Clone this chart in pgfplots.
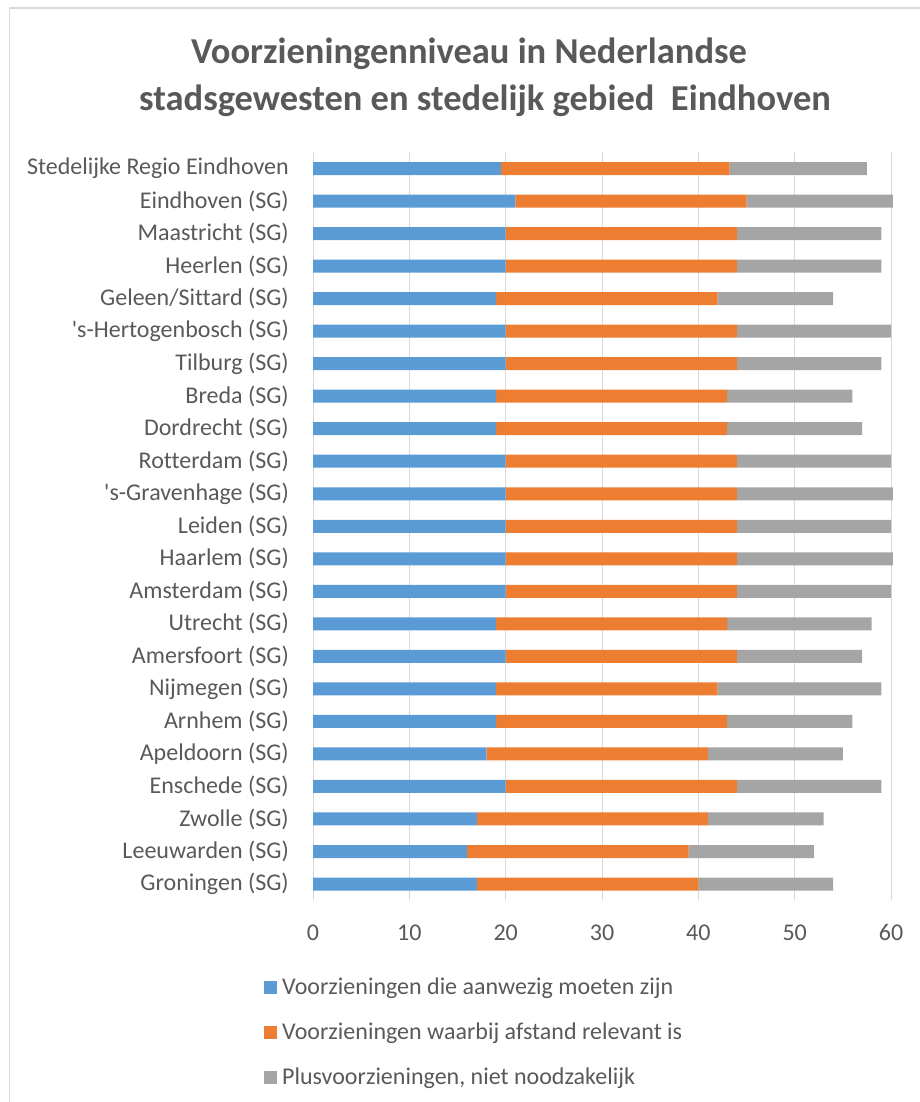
\documentclass[border=0pt]{standalone}
\usepackage{pgfplots}
\pgfplotsset{compat=1.18}
\usepackage{fontspec}
\setmainfont{Carlito}[Ligatures={TeXOff,CommonOff}]
\definecolor{cblue}{HTML}{5B9BD5}
\definecolor{corange}{HTML}{ED7D31}
\definecolor{cgray}{HTML}{A5A5A5}
\definecolor{gridgray}{HTML}{D9D9D9}
\definecolor{textgray}{HTML}{595959}
\begin{document}
\begin{tikzpicture}[x=1pt,y=1pt]
\useasboundingbox (0,0) rectangle (920,1102);
\draw[gridgray, line width=1.5pt] (9.5,0) -- (9.5,1094) -- (920,1094);
\node[font=\fontsize{36.5}{44}\selectfont\bfseries, text=textgray, anchor=base] at (469,1038) {Voorzieningenniveau in Nederlandse};
\node[font=\fontsize{36.5}{44}\selectfont\bfseries, text=textgray, anchor=base] at (485,991) {stadsgewesten en stedelijk gebied\ \ Eindhoven};
\begin{axis}[
  at={(313pt,201.7pt)}, anchor=south west,
  scale only axis, width=578pt, height=748pt,
  xbar stacked, bar width=13pt,
  xmin=0, xmax=60, ymin=-0.5, ymax=22.5,
  xtick={0,10,...,60}, ytick={0,...,22},
  yticklabels={Groningen (SG),Leeuwarden (SG),Zwolle (SG),Enschede (SG),Apeldoorn (SG),Arnhem (SG),Nijmegen (SG),Amersfoort (SG),Utrecht (SG),Amsterdam (SG),Haarlem (SG),Leiden (SG),'s-Gravenhage (SG),Rotterdam (SG),Dordrecht (SG),Breda (SG),Tilburg (SG),'s-Hertogenbosch (SG),Geleen/Sittard (SG),Heerlen (SG),Maastricht (SG),Eindhoven (SG),Stedelijke Regio Eindhoven},
  /pgf/number format/assume math mode=true,
  axis line style={draw=none}, major tick length=0pt, tick style={draw=none},
  xmajorgrids, grid style={gridgray, line width=1pt},
  clip=false,
  tick label style={font=\fontsize{24}{29}\selectfont, text=textgray},
  xticklabel style={inner sep=0pt, anchor=north, yshift=-24pt},
  yticklabel style={inner sep=0pt, anchor=east, xshift=-24pt},
  legend style={at={(axis description cs:-0.0848,-0.1040)}, anchor=north west, draw=none, fill=none, inner sep=0pt, row sep=26.8pt, column sep=5pt, font=\fontsize{24}{29}\selectfont, text=textgray, nodes={inner sep=0pt}},
  legend cell align=left,
  legend image code/.code={\fill[#1] (0pt,-6.5pt) rectangle (13pt,6.5pt);},
]
\addplot[fill=cblue, draw=none] coordinates {(17,0) (16,1) (17,2) (20,3) (18,4) (19,5) (19,6) (20,7) (19,8) (20,9) (20,10) (20,11) (20,12) (20,13) (19,14) (19,15) (20,16) (20,17) (19,18) (20,19) (20,20) (21,21) (19.5,22)};
\addplot[fill=corange, draw=none] coordinates {(23,0) (23,1) (24,2) (24,3) (23,4) (24,5) (23,6) (24,7) (24,8) (24,9) (24,10) (24,11) (24,12) (24,13) (24,14) (24,15) (24,16) (24,17) (23,18) (24,19) (24,20) (24,21) (23.75,22)};
\addplot[fill=cgray, draw=none] coordinates {(14,0) (13,1) (12,2) (15,3) (14,4) (13,5) (17,6) (13,7) (15,8) (16,9) (16.2,10) (16,11) (16.2,12) (16,13) (14,14) (13,15) (15,16) (16,17) (12,18) (15,19) (15,20) (15.2,21) (14.25,22)};
\legend{Voorzieningen die aanwezig moeten zijn, Voorzieningen waarbij afstand relevant is, {Plusvoorzieningen, niet noodzakelijk}}
\end{axis}
\end{tikzpicture}
\end{document}
